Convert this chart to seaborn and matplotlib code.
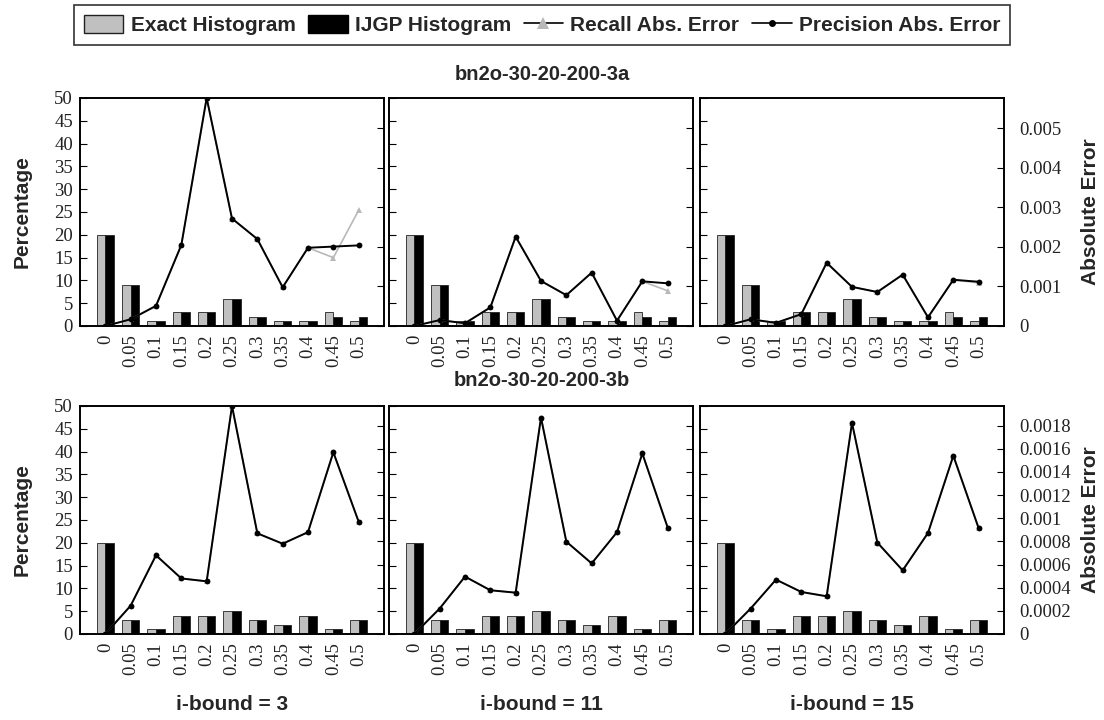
import matplotlib
matplotlib.use("Agg")
import matplotlib.pyplot as plt
import seaborn as sns
import pandas as pd
from matplotlib.lines import Line2D
from matplotlib.patches import Patch

sns.set_theme(style="white")
plt.rcParams['font.family'] = ['Liberation Sans', 'DejaVu Sans']

# ---------------- data ----------------
bins = ["0", "0.05", "0.1", "0.15", "0.2", "0.25", "0.3", "0.35", "0.4", "0.45", "0.5"]
ibounds = ["i-bound = 3", "i-bound = 11", "i-bound = 15"]
row_titles = ["bn2o-30-20-200-3a", "bn2o-30-20-200-3b"]

exact_3a = [20, 9, 1, 3, 3, 6, 2, 1, 1, 3, 1]
ijgp_3a = [20, 9, 1, 3, 3, 6, 2, 1, 1, 2, 2]
exact_3b = [20, 3, 1, 4, 4, 5, 3, 2, 4, 1, 3]
ijgp_3b = [20, 3, 1, 4, 4, 5, 3, 2, 4, 1, 3]

prec_3a_i3 = [0, 0.00017, 0.00051, 0.00205, 0.00577, 0.00272, 0.00220, 0.00098, 0.00198, 0.00201, 0.00204]
rec_3a_i3 = [0, 0.00017, 0.00051, 0.00205, 0.00577, 0.00272, 0.00220, 0.00098, 0.00198, 0.00173, 0.00293]
prec_3a_i11 = [0, 0.00015, 0.00007, 0.00047, 0.00226, 0.00114, 0.00078, 0.00135, 0.000135, 0.00113, 0.00108]
rec_3a_i11 = [0, 0.00015, 0.00007, 0.00047, 0.00226, 0.00114, 0.00078, 0.00135, 0.000135, 0.00113, 0.00089]
prec_3a_i15 = [0, 0.00017, 0.00008, 0.00030, 0.00160, 0.00099, 0.00086, 0.00130, 0.00022, 0.00117, 0.00112]
rec_3a_i15 = [0, 0.00017, 0.00008, 0.00030, 0.00160, 0.00099, 0.00086, 0.00130, 0.00022, 0.00117, 0.00109]

prec_3b_i3 = [0, 0.000245, 0.00068, 0.00048, 0.000455, 0.00197, 0.00087, 0.00078, 0.00088, 0.00157, 0.00097]
rec_3b_i3 = prec_3b_i3
prec_3b_i11 = [0, 0.00022, 0.000496, 0.000378, 0.000357, 0.00187, 0.000798, 0.00061, 0.00088, 0.00156, 0.00092]
rec_3b_i11 = prec_3b_i11
prec_3b_i15 = [0, 0.00022, 0.00047, 0.000363, 0.000326, 0.001824, 0.00079, 0.00055, 0.000873, 0.00154, 0.000914]
rec_3b_i15 = prec_3b_i15

hist = [(exact_3a, ijgp_3a), (exact_3b, ijgp_3b)]
prec = [[prec_3a_i3, prec_3a_i11, prec_3a_i15], [prec_3b_i3, prec_3b_i11, prec_3b_i15]]
rec = [[rec_3a_i3, rec_3a_i11, rec_3a_i15], [rec_3b_i3, rec_3b_i11, rec_3b_i15]]
right_max = [0.00577, 0.00197]
right_ticks = [[0, 0.001, 0.002, 0.003, 0.004, 0.005],
               [0, 0.0002, 0.0004, 0.0006, 0.0008, 0.001, 0.0012, 0.0014, 0.0016, 0.0018]]
left_ticks = [0, 5, 10, 15, 20, 25, 30, 35, 40, 45, 50]

GRAY = "#c0c0c0"
series = ["Exact Histogram", "IJGP Histogram"]
palette = {"Exact Histogram": GRAY, "IJGP Histogram": "#000000"}

W, H = 1104, 720
fig = plt.figure(figsize=(W / 100, H / 100), dpi=100)

lefts = [80, 389, 700]
pw = 304
tops = [98, 406]
ph = 228

serif = "Liberation Serif"
tick_fs = 13.5
lab_fs = 15

for r in range(2):
    ex, ij = hist[r]
    df = pd.DataFrame({
        "bin": bins * 2,
        "value": list(ex) + list(ij),
        "series": [series[0]] * len(bins) + [series[1]] * len(bins),
    })
    for c in range(3):
        ax = fig.add_axes([lefts[c] / W, 1 - (tops[r] + ph) / H, pw / W, ph / H])
        sns.barplot(data=df, x="bin", y="value", hue="series", order=bins,
                    hue_order=series, palette=palette, width=0.68, saturation=1,
                    edgecolor="#222222", linewidth=0.6, errorbar=None,
                    legend=False, ax=ax)
        ax2 = ax.twinx()
        pos = list(range(len(bins)))
        sns.lineplot(x=pos, y=rec[r][c], ax=ax2, color="#b8b8b8", marker="^",
                     markersize=5, markeredgewidth=0, linewidth=1.2, legend=False)
        sns.lineplot(x=pos, y=prec[r][c], ax=ax2, color="black", marker="o",
                     markersize=4.2, markeredgewidth=0, linewidth=1.4, legend=False)
        ax.set_ylim(0, 50)
        ax2.set_ylim(0, right_max[r])
        ax.set_xlim(-1, 11)
        ax.set_xlabel("")
        ax.set_ylabel("")
        ax2.set_ylabel("")
        ax.set_yticks(left_ticks)
        ax2.set_yticks(right_ticks[r])
        ax.set_xticks(pos)
        ax.set_xticklabels(bins, rotation=90, fontfamily=serif, fontsize=tick_fs)
        if c == 0:
            ax.set_yticklabels([str(t) for t in left_ticks], fontfamily=serif, fontsize=tick_fs)
        else:
            ax.set_yticklabels([])
        if c == 2:
            ax2.set_yticklabels(["%g" % t for t in right_ticks[r]], fontfamily=serif, fontsize=tick_fs)
        else:
            ax2.set_yticklabels([])
        ax.tick_params(axis="y", direction="in", length=5, width=0.8, color="black",
                       left=True, right=False, pad=5, labelcolor="#222222")
        ax2.tick_params(axis="y", direction="in", length=5, width=0.8, color="black",
                        right=True, left=False, pad=11, labelcolor="#222222")
        ax.tick_params(axis="x", length=0, pad=6, labelcolor="#222222")
        for a in (ax, ax2):
            for s in a.spines.values():
                s.set_color("black")
                s.set_linewidth(1.2)
                s.set_visible(True)
        ax2.grid(False)
        ax.grid(False)

# titles and labels
cx = (lefts[0] + lefts[2] + pw) / 2 / W
fig.text(cx, 1 - 75 / H, row_titles[0], ha="center", va="center", fontsize=14.5, fontweight="bold")
fig.text(cx, 1 - 381 / H, row_titles[1], ha="center", va="center", fontsize=14.5, fontweight="bold")
for c in range(3):
    fig.text((lefts[c] + pw / 2) / W, 1 - 705 / H, ibounds[c], ha="center", va="center",
             fontsize=lab_fs, fontweight="bold")
for r in range(2):
    yc = 1 - (tops[r] + ph / 2) / H
    fig.text(22 / W, yc, "Percentage", rotation=90, ha="center", va="center",
             fontsize=lab_fs, fontweight="bold")
    fig.text(1091 / W, yc, "Absolute Error", rotation=90, ha="center", va="center",
             fontsize=lab_fs, fontweight="bold")

handles = [
    Patch(facecolor=GRAY, edgecolor="#222222", linewidth=1.0),
    Patch(facecolor="black", edgecolor="black", linewidth=1.0),
    Line2D([], [], color="black", linewidth=1.2, marker="^", markersize=9,
           markerfacecolor="#b8b8b8", markeredgewidth=0),
    Line2D([], [], color="black", linewidth=1.2, marker="o", markersize=5,
           markerfacecolor="black", markeredgewidth=0),
]
labels = ["Exact Histogram", "IJGP Histogram", "Recall Abs. Error", "Precision Abs. Error"]
leg = fig.legend(handles, labels, ncol=4, loc="center", bbox_to_anchor=(542 / W, 1 - 25 / H),
                 frameon=True, fancybox=False, edgecolor="black",
                 prop={"weight": "bold", "size": 15}, handlelength=1.9, handleheight=1.0,
                 handletextpad=0.35, columnspacing=0.6, borderpad=0.45, borderaxespad=0)
leg.get_frame().set_linewidth(1.2)

fig.savefig("out.png", dpi=100, facecolor="white")
